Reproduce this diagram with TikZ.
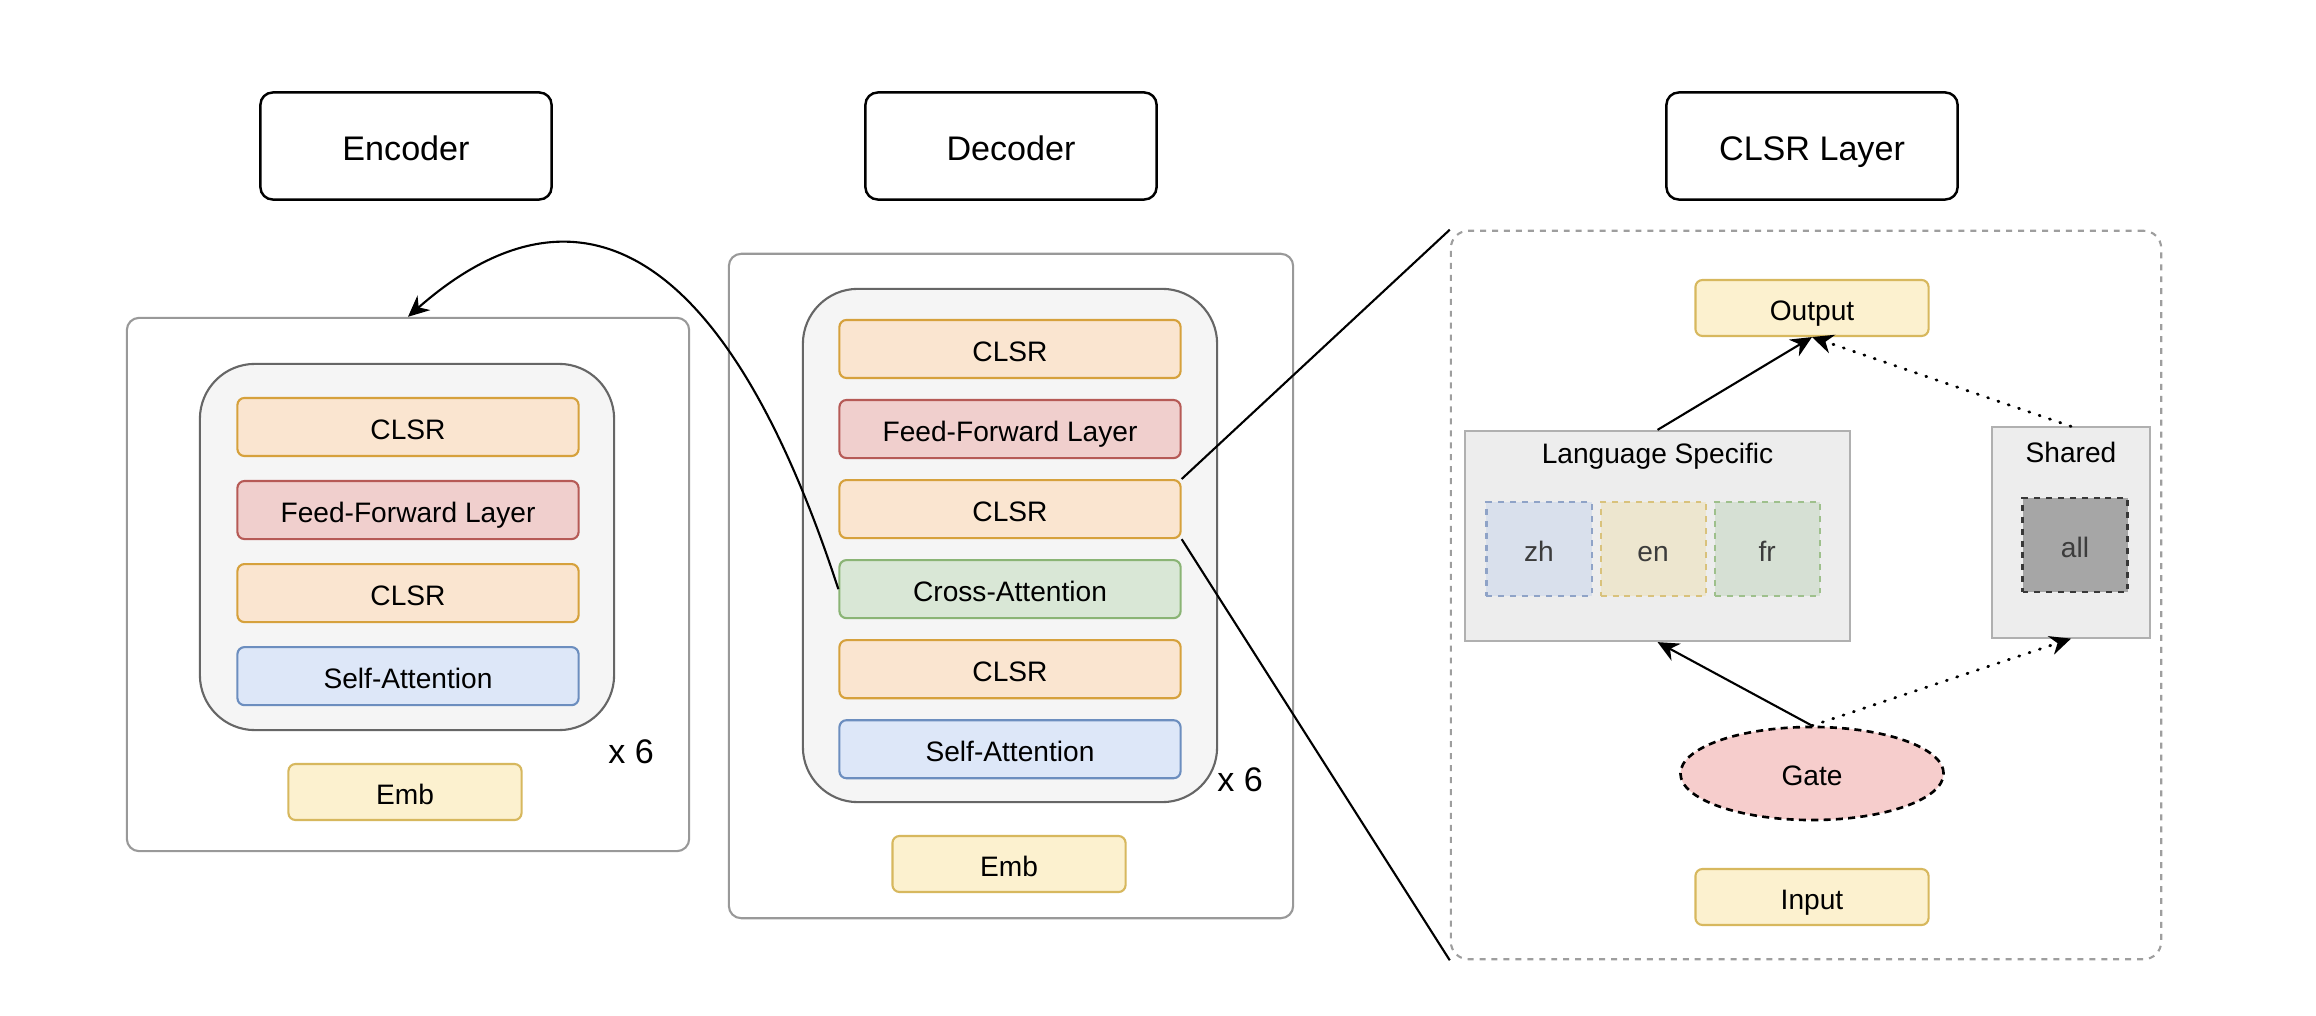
\documentclass[tikz,border=0pt]{standalone}
\usepackage{fontspec}
\setmainfont{Liberation Sans}
\usetikzlibrary{arrows.meta,shapes.geometric,positioning}
\definecolor{clsrfill}{HTML}{FAE5D0}
\definecolor{clsrline}{HTML}{D6A13C}
\definecolor{fffill}{HTML}{F0CFCD}
\definecolor{ffline}{HTML}{B65A56}
\definecolor{safill}{HTML}{DDE7F8}
\definecolor{saline}{HTML}{6C8EBF}
\definecolor{cafill}{HTML}{D9E7D6}
\definecolor{caline}{HTML}{8AB475}
\definecolor{embfill}{HTML}{FCF1CF}
\definecolor{embline}{HTML}{D7B85E}
\definecolor{zhfill}{HTML}{D9E0EC}
\definecolor{zhline}{HTML}{8FA3C7}
\definecolor{enfill}{HTML}{EDE6CF}
\definecolor{enline}{HTML}{D9C27C}
\definecolor{frfill}{HTML}{D6E0D4}
\definecolor{frline}{HTML}{9EC08C}
\definecolor{gatefill}{HTML}{F6CDCC}
\definecolor{txtgray}{HTML}{3C3C3C}

\begin{document}
\begin{tikzpicture}[x=0.01cm,y=-0.01cm,>={Stealth[length=6pt,width=5.5pt]},
    node distance=0.8cm,inner sep=0pt,line width=0.6pt,
    headbox/.style={draw,rounded corners=3.5pt,line width=0.7pt,minimum width=2.91cm,
      minimum height=1.07cm,text height=8pt,text depth=0pt,font=\fontsize{9.7}{11}\selectfont},
    block/.style={draw,rounded corners=2pt,minimum width=3.41cm,minimum height=0.58cm,
      text height=7pt,text depth=0pt,font=\fontsize{8}{9.6}\selectfont},
    clsrblock/.style={block,fill=clsrfill,draw=clsrline},
    ffblock/.style={block,fill=fffill,draw=ffline},
    sablock/.style={block,fill=safill,draw=saline},
    cablock/.style={block,fill=cafill,draw=caline},
    embblock/.style={block,fill=embfill,draw=embline,minimum width=2.33cm,minimum height=0.56cm},
    outerbox/.style={draw=black!40,rounded corners=3.5pt,fill=white},
    innerbox/.style={draw=black!60,rounded corners=0.55cm,fill=black!4},
    groupbox/.style={draw=black!31,fill=black!7},
    grouplabel/.style={anchor=center,text height=7pt,text depth=0pt,font=\fontsize{8}{9.6}\selectfont},
    langbox/.style={dashed,dash pattern=on 1.7pt off 1.7pt,minimum width=1.05cm,
      minimum height=0.94cm,text=txtgray,text height=7pt,text depth=0pt,font=\fontsize{8}{9.6}\selectfont},
    dotline/.style={line cap=round,dash pattern=on 0.3pt off 2.8pt,line width=0.8pt},
    repeat/.style={font=\fontsize{9.7}{11}\selectfont}]

  \useasboundingbox (0,0) rectangle (2316,1016);

  % titles
  \node[headbox] (enctitle) at (406,146) {Encoder};
  \node[headbox] (dectitle) at (1011,146) {Decoder};
  \node[headbox] (clsrtitle) at (1812,146) {CLSR Layer};

  % encoder
  \node[outerbox,minimum width=5.62cm,minimum height=5.33cm] (encout) at (408,584.5) {};
  \node[innerbox,minimum width=4.14cm,minimum height=3.66cm] (encin) at (407,547) {};
  \node[clsrblock] (ec2) at (408,427) {CLSR};
  \node[ffblock,node distance=0.83cm] (eff) [below of=ec2] {Feed-Forward Layer};
  \node[clsrblock,node distance=0.83cm] (ec1) [below of=eff] {CLSR};
  \node[sablock,node distance=0.83cm] (esa) [below of=ec1] {Self-Attention};
  \node[repeat] (encrep) at (631,752) {x 6};
  \node[embblock] (eemb) at (405,792) {Emb};

  % decoder
  \node[outerbox,minimum width=5.64cm,minimum height=6.64cm] (decout) at (1011,586) {};
  \node[innerbox,minimum width=4.14cm,minimum height=5.13cm] (decin) at (1010,545.5) {};
  \node[clsrblock] (dc3) at (1010,349) {CLSR};
  \node[ffblock] (dff) [below of=dc3] {Feed-Forward Layer};
  \node[clsrblock] (dc2) [below of=dff] {CLSR};
  \node[cablock] (dca) [below of=dc2] {Cross-Attention};
  \node[clsrblock] (dc1) [below of=dca] {CLSR};
  \node[sablock] (dsa) [below of=dc1] {Self-Attention};
  \node[repeat] (decrep) at (1240,780) {x 6};
  \node[embblock] (demb) at (1009,864) {Emb};

  % clsr layer
  \node[draw=black!38,dashed,dash pattern=on 1.7pt off 1.7pt,rounded corners=5pt,
    minimum width=7.10cm,minimum height=7.28cm] (panel) at (1806,595) {};
  \node[embblock] (output) at (1812,308) {Output};
  \node[groupbox,minimum width=3.85cm,minimum height=2.10cm,
    label={[grouplabel,yshift=-0.217cm]north:Language Specific}] (langspec) at (1657.5,536) {};
  \node[langbox,fill=zhfill,draw=zhline] (zh) at (1539,549) {zh};
  \node[langbox,fill=enfill,draw=enline,node distance=1.14cm] (en) [right of=zh] {en};
  \node[langbox,fill=frfill,draw=frline,node distance=1.14cm] (fr) [right of=en] {fr};
  \node[groupbox,minimum width=1.58cm,minimum height=2.10cm,
    label={[grouplabel,yshift=-0.234cm]north:Shared}] (shared) at (2071,532.5) {};
  \node[langbox,fill=black!35,draw=black!78,line width=0.8pt] (all) at (2075,545) {all};
  \node[ellipse,draw,fill=gatefill,dashed,dash pattern=on 2pt off 1.5pt,line width=0.75pt,
    minimum width=2.63cm,minimum height=0.93cm,text height=7pt,text depth=0pt,
    font=\fontsize{8}{9.6}\selectfont] (gate) at (1812,773.5) {Gate};
  \node[embblock] (input) at (1812,897) {Input};

  \draw[->] (langspec.north) -- (output.south);
  \draw[->,dotline] (shared.north) -- (output.south);
  \draw[->] (gate.north) -- (langspec.south);
  \draw[->,dotline] (gate.north) -- (shared.south);

  \draw (dc2.north east) -- (panel.north west);
  \draw (dc2.south east) -- (panel.south west);
  \draw[->] (dca.west) .. controls +(-124,-380) and +(150,-132) .. (encout.north);

\end{tikzpicture}
\end{document}
